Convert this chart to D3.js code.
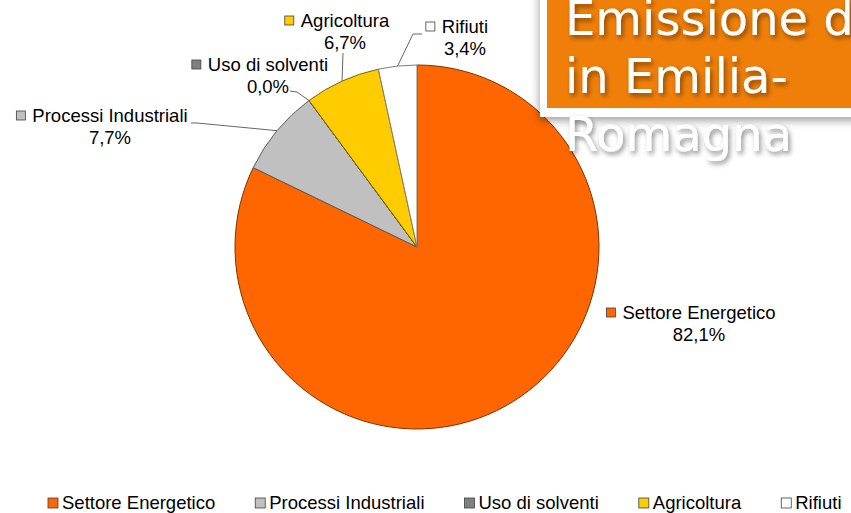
<!DOCTYPE html>
<html lang="it">
<head>
<meta charset="utf-8">
<title>Emissione di CO2 in Emilia-Romagna</title>
<script src="https://cdn.jsdelivr.net/npm/d3@7"></script>
<style>
  html, body { margin: 0; padding: 0; background: #fff; overflow: hidden; }
  svg { display: block; }
</style>
</head>
<body>
<svg id="chart" width="851" height="513"></svg>
<script>
// Emission shares by sector (percent)
const categories = ["Settore Energetico", "Processi Industriali", "Uso di solventi", "Agricoltura", "Rifiuti"];
const shares = [82.1, 7.7, 0.0, 6.7, 3.4];
const titleLines = ["Emissione di", "in Emilia-", "Romagna"];

const W = 851, H = 513;
const svg = d3.select("#chart");

const color = d3.scaleOrdinal()
  .domain(categories)
  .range(["#ff6600", "#c0c0c0", "#808080", "#ffcc00", "#ffffff"]);

const itFormat = d3.formatLocale({ decimal: ",", thousands: ".", grouping: [3], currency: ["", " €"] }).format(".1f");
const pct = v => itFormat(v) + "%";

const data = categories.map((c, i) => ({ name: c, value: shares[i] }));

// ---- pie ----
const cx = 417, cy = 247, R = 182;
const pie = d3.pie().sort(null).value(d => d.value);
const arcs = pie(data);
const arc = d3.arc().innerRadius(0).outerRadius(R);
const rim = d3.arc().innerRadius(R).outerRadius(R);

const gPie = svg.append("g").attr("transform", `translate(${cx},${cy})`);
gPie.selectAll("path")
  .data(arcs)
  .join("path")
  .attr("d", arc)
  .attr("fill", d => color(d.data.name))
  .attr("stroke", d => d3.color(color(d.data.name)).darker(2))
  .attr("stroke-width", 1)
  .attr("stroke-linejoin", "round");

// ---- data labels ----
const labelFont = "'Liberation Sans', Arial, sans-serif";
const labelPos = {
  "Settore Energetico":   { x: 699, y: 319, elbow: null },
  "Processi Industriali": { x: 110, y: 122, elbow: [[191, 123], [197, 123]] },
  "Uso di solventi":      { x: 268, y: 71,  elbow: [[290, 91], [297, 92]] },
  "Agricoltura":          { x: 345, y: 27,  elbow: [[343, 53]] },
  "Rifiuti":              { x: 465, y: 33,  elbow: [[422, 34], [413, 34]] }
};

const gLeaders = svg.append("g");
const gLabels = svg.append("g")
  .attr("font-family", labelFont)
  .attr("font-size", 18.5)
  .attr("fill", "#000");

arcs.forEach(d => {
  const p = labelPos[d.data.name];
  if (p.elbow) {
    const [mx, my] = rim.centroid(d);
    const pts = p.elbow.concat([[cx + mx, cy + my]]);
    gLeaders.append("path")
      .attr("d", d3.line()(pts))
      .attr("fill", "none")
      .attr("stroke", "#666")
      .attr("stroke-width", 1);
  }
  const name = gLabels.append("text")
    .attr("x", p.x).attr("y", p.y)
    .attr("text-anchor", "middle")
    .text(d.data.name);
  const w = name.node().getComputedTextLength();
  gLabels.append("rect")
    .attr("x", p.x - w / 2 - 16).attr("y", p.y - 11)
    .attr("width", 9).attr("height", 9)
    .attr("fill", color(d.data.name))
    .attr("stroke", "#404040").attr("stroke-width", 0.8);
  gLabels.append("text")
    .attr("x", p.x).attr("y", p.y + 22)
    .attr("text-anchor", "middle")
    .text(pct(d.data.value));
});

// ---- legend ----
const gLegend = svg.append("g")
  .attr("font-family", labelFont)
  .attr("font-size", 18.5)
  .attr("fill", "#000");
let lx = 48;
categories.forEach(c => {
  gLegend.append("rect")
    .attr("x", lx).attr("y", 498)
    .attr("width", 10).attr("height", 10)
    .attr("fill", color(c))
    .attr("stroke", "#404040").attr("stroke-width", 0.8);
  const t = gLegend.append("text")
    .attr("x", lx + 14).attr("y", 509)
    .text(c);
  lx += 14 + t.node().getComputedTextLength() + 40;
});

// ---- title box ----
const defs = svg.append("defs");
const boxShadow = defs.append("filter").attr("id", "boxShadow")
  .attr("x", "-20%").attr("y", "-20%").attr("width", "140%").attr("height", "140%");
boxShadow.append("feDropShadow")
  .attr("dx", -1).attr("dy", 4).attr("stdDeviation", 4)
  .attr("flood-color", "#000").attr("flood-opacity", 0.35);
const textShadow = defs.append("filter").attr("id", "textShadow")
  .attr("x", "-10%").attr("y", "-30%").attr("width", "120%").attr("height", "160%");
textShadow.append("feDropShadow")
  .attr("dx", 2).attr("dy", 3).attr("stdDeviation", 2.5)
  .attr("flood-color", "#000").attr("flood-opacity", 0.45);

const gTitle = svg.append("g");
gTitle.append("rect")
  .attr("x", 540).attr("y", -20).attr("width", 330).attr("height", 137)
  .attr("fill", "#fff")
  .attr("filter", "url(#boxShadow)");
gTitle.append("rect")
  .attr("x", 547).attr("y", -20).attr("width", 320).attr("height", 128)
  .attr("fill", "#f07f09");
gTitle.append("text")
  .attr("font-family", "'DejaVu Sans', Verdana, sans-serif")
  .attr("font-size", 48)
  .attr("fill", "#fff")
  .attr("filter", "url(#textShadow)")
  .selectAll("tspan")
  .data(titleLines)
  .join("tspan")
  .attr("x", 565)
  .attr("y", (d, i) => 35 + i * 58)
  .text(d => d);
</script>
</body>
</html>
